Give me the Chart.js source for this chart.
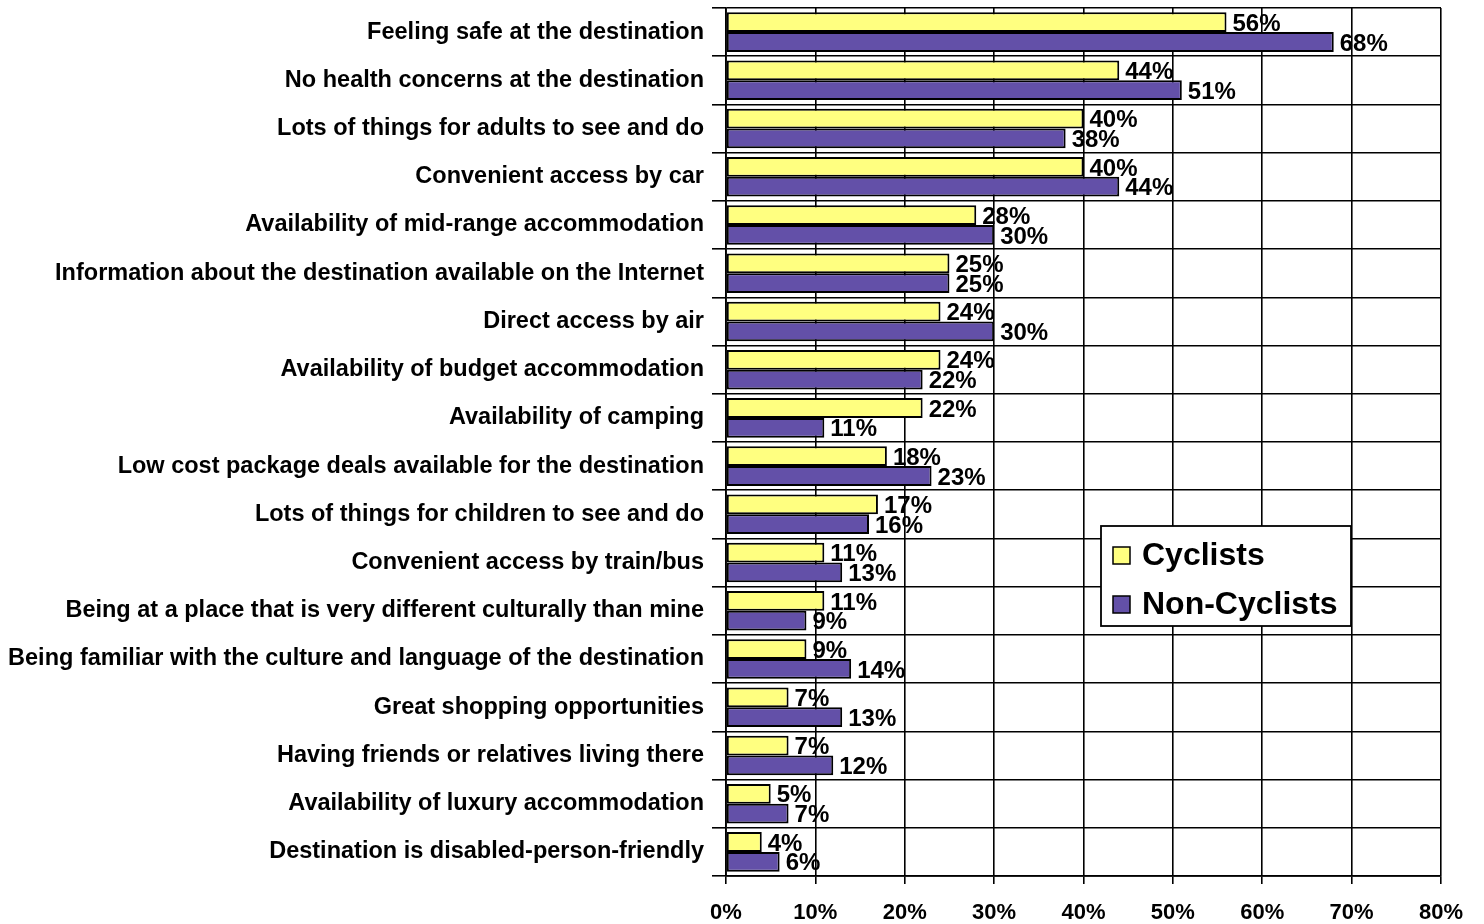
<!DOCTYPE html>
<html lang="en">
<head>
  <meta charset="UTF-8">
  <title>Destination attributes: Cyclists vs Non-Cyclists</title>
  <script src="https://cdn.jsdelivr.net/npm/chart.js"></script>
  <style>
    body { margin: 0; padding: 0; background: #fff; }
    #wrap { width: 1484px; height: 924px; position: relative; }
  </style>
</head>
<body>
  <div id="wrap"><canvas id="chart"></canvas></div>

  <script>
    // Data
    const categories = [
      'Feeling safe at the destination',
      'No health concerns at the destination',
      'Lots of things for adults to see and do',
      'Convenient access by car',
      'Availability of mid-range accommodation',
      'Information about the destination available on the Internet',
      'Direct access by air',
      'Availability of budget accommodation',
      'Availability of camping',
      'Low cost package deals available for the destination',
      'Lots of things for children to see and do',
      'Convenient access by train/bus',
      'Being at a place that is very different culturally than mine',
      'Being familiar with the culture and language of the destination',
      'Great shopping opportunities',
      'Having friends or relatives living there',
      'Availability of luxury accommodation',
      'Destination is disabled-person-friendly'
    ];
    const cyclists = [56, 44, 40, 40, 28, 25, 24, 24, 22, 18, 17, 11, 11, 9, 7, 7, 5, 4];
    const nonCyclists = [68, 51, 38, 44, 30, 25, 30, 22, 11, 23, 16, 13, 9, 14, 13, 12, 7, 6];
    const xTicks = [0, 10, 20, 30, 40, 50, 60, 70, 80];

    const FONT = '"Liberation Sans", Arial, sans-serif';

    // value labels at the end of each bar
    const valueLabels = {
      id: 'valueLabels',
      afterDatasetsDraw(chart) {
        const ctx = chart.ctx;
        ctx.save();
        ctx.font = 'bold 24px ' + FONT;
        ctx.fillStyle = '#000';
        ctx.textAlign = 'left';
        ctx.textBaseline = 'middle';
        chart.data.datasets.forEach((ds, i) => {
          chart.getDatasetMeta(i).data.forEach((bar, j) => {
            ctx.fillText(ds.data[j] + '%', bar.x + 6, bar.y + 2);
          });
        });
        ctx.restore();
      }
    };

    // boxed legend inside the plot
    const boxLegend = {
      id: 'boxLegend',
      afterDraw(chart) {
        const ctx = chart.ctx;
        const x = 1101, y = 526, w = 250, h = 100;
        ctx.save();
        ctx.fillStyle = '#fff';
        ctx.fillRect(x, y, w, h);
        ctx.strokeStyle = '#000';
        ctx.lineWidth = 1.8;
        ctx.strokeRect(x, y, w, h);
        ctx.font = 'bold 32px ' + FONT;
        ctx.textBaseline = 'middle';
        chart.data.datasets.forEach((ds, i) => {
          const cy = y + 29 + i * 49;
          ctx.fillStyle = ds.backgroundColor;
          ctx.fillRect(x + 12, cy - 8, 17, 17);
          ctx.lineWidth = 1.5;
          ctx.strokeRect(x + 12, cy - 8, 17, 17);
          ctx.fillStyle = '#000';
          ctx.fillText(ds.label, x + 41, cy + 1);
        });
        ctx.restore();
      }
    };

    new Chart(document.getElementById('chart'), {
      type: 'bar',
      data: {
        labels: categories,
        datasets: [{
          label: 'Cyclists',
          data: cyclists,
          backgroundColor: '#FFFF80',
          borderColor: '#000',
          borderWidth: 2,
          borderSkipped: false,
          categoryPercentage: 0.82,
          barPercentage: 1.0
        }, {
          label: 'Non-Cyclists',
          data: nonCyclists,
          backgroundColor: '#6350A8',
          borderColor: '#000',
          borderWidth: 2,
          borderSkipped: false,
          categoryPercentage: 0.82,
          barPercentage: 1.0
        }]
      },
      options: {
        indexAxis: 'y',
        responsive: true,
        maintainAspectRatio: false,
        animation: false,
        layout: { padding: { top: 8, right: 43, bottom: 0, left: 0 } },
        plugins: {
          legend: { display: false },
          tooltip: { enabled: false }
        },
        scales: {
          x: {
            min: 0,
            max: 80,
            afterBuildTicks: (scale) => { scale.ticks = xTicks.map(v => ({ value: v })); },
            afterFit: (scale) => { scale.height = 48; },
            grid: { color: '#000', lineWidth: 1.6, tickLength: 8 },
            border: { color: '#000', width: 1.8 },
            ticks: {
              padding: 16,
              color: '#000',
              font: { family: FONT, size: 22, weight: 'bold' },
              callback: (v) => v + '%'
            }
          },
          y: {
            afterFit: (scale) => {
              scale.width = 726;
              // labels sit mid-category, no extra room needed above/below
              scale.paddingTop = 0;
              scale.paddingBottom = 0;
            },
            grid: { color: '#000', lineWidth: 1.6, tickLength: 14, offset: true },
            border: { color: '#000', width: 1.8 },
            ticks: {
              padding: 8,
              color: '#000',
              autoSkip: false,
              font: { family: FONT, size: 23.5, weight: 'bold' }
            }
          }
        }
      },
      plugins: [valueLabels, boxLegend]
    });
  </script>
</body>
</html>
